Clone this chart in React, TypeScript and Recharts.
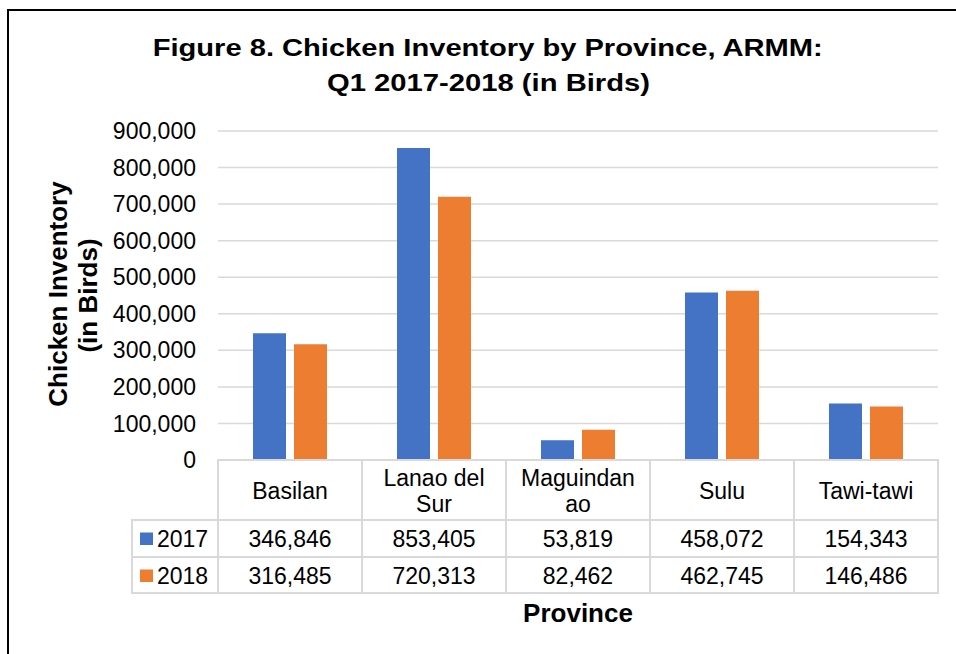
import React from "react";
import { BarChart, Bar, XAxis, YAxis, CartesianGrid, Customized } from "recharts";

const provinces = ["Basilan", "Lanao del Sur", "Maguindanao", "Sulu", "Tawi-tawi"];
// how the category names wrap inside the data table header
const provinceLines = [["Basilan"], ["Lanao del", "Sur"], ["Maguindan", "ao"], ["Sulu"], ["Tawi-tawi"]];
const inv2017 = [346846, 853405, 53819, 458072, 154343];
const inv2018 = [316485, 720313, 82462, 462745, 146486];
const seriesNames = ["2017", "2018"];
const yTicks = [0, 100000, 200000, 300000, 400000, 500000, 600000, 700000, 800000, 900000];

const COLORS = ["#4472C4", "#ED7D31"];
const W = 956;
const H = 654;
const X_AXIS_H = 194;
const M = { top: 131, right: 18, bottom: 0, left: 0 };
const Y_AXIS_W = 218;
const COL_W = (W - M.right - Y_AXIS_W) / provinces.length;
const FONT = "'Liberation Sans', Arial, sans-serif";
const GRID = "#d9d9d9";

const data = provinces.map((p, i) => ({ name: p, y2017: inv2017[i], y2018: inv2018[i] }));
const seriesRows = [inv2017, inv2018];

const fmt = (v: number) => v.toLocaleString("en-US");

const TableTick = (props: any) => {
    const { x, y, index } = props;
    const left = x - COL_W / 2;
    const headH = 60;
    const rowH = [37, 36];
    const lines = provinceLines[index];
    return (
        <g fontFamily={FONT} fontSize={23} fill="#000">
            <rect x={left} y={y} width={COL_W} height={headH} fill="none" stroke={GRID} strokeWidth={2} />
            {lines.map((ln, k) => (
                <text
                    key={k}
                    x={x}
                    y={lines.length === 1 ? y + 39 : y + 26 + k * 26}
                    textAnchor="middle"
                >
                    {ln}
                </text>
            ))}
            {seriesRows.map((row, r) => {
                const ry = y + headH + (r === 0 ? 0 : rowH[0]);
                return (
                    <g key={r}>
                        <rect x={left} y={ry} width={COL_W} height={rowH[r]} fill="none" stroke={GRID} strokeWidth={2} />
                        <text x={x} y={ry + 26.5} textAnchor="middle">
                            {fmt(row[index])}
                        </text>
                        {index === 0 && (
                            <g>
                                <rect x={left - 86} y={ry} width={86} height={rowH[r]} fill="none" stroke={GRID} strokeWidth={2} />
                                <rect x={left - 78} y={ry + 12.5} width={13} height={12.5} fill={COLORS[r]} />
                                <text x={left - 61} y={ry + 26.5}>
                                    {seriesNames[r]}
                                </text>
                            </g>
                        )}
                    </g>
                );
            })}
        </g>
    );
};

const Titles = () => (
    <g fontFamily={FONT} fontWeight="bold" fill="#000">
        <text x={487.7} y={56} fontSize={24} textAnchor="middle" textLength={670} lengthAdjust="spacingAndGlyphs">
            Figure 8. Chicken Inventory by Province, ARMM:
        </text>
        <text x={488.5} y={91} fontSize={24} textAnchor="middle" textLength={323} lengthAdjust="spacingAndGlyphs">
            Q1 2017-2018 (in Birds)
        </text>
        <text x={67} y={294} fontSize={26} textAnchor="middle" transform="rotate(-90 67 294)">
            Chicken Inventory
        </text>
        <text x={97} y={295.5} fontSize={26} textAnchor="middle" transform="rotate(-90 97 295.5)">
            (in Birds)
        </text>
        <text x={578} y={622} fontSize={26} textAnchor="middle">
            Province
        </text>
    </g>
);

export default function App() {
    return (
        <div style={{ position: "absolute", left: 0, top: 0, width: W, height: H, overflow: "hidden", background: "#fff" }}>
            <div
                style={{
                    position: "absolute",
                    left: 7,
                    top: 9,
                    width: 1000,
                    height: 1000,
                    borderLeft: "2px solid #000",
                    borderTop: "2px solid #000",
                }}
            />
            <div style={{ position: "absolute", left: 0, top: 0 }}>
                <BarChart width={W} height={H} data={data} margin={M} barSize={33} barGap={8}>
                    <CartesianGrid vertical={false} stroke={GRID} strokeWidth={1.5} />
                    <XAxis
                        dataKey="name"
                        height={X_AXIS_H}
                        interval={0}
                        axisLine={{ stroke: GRID, strokeWidth: 2 }}
                        tickLine={false}
                        tickSize={0}
                        tickMargin={0}
                        tick={<TableTick />}
                    />
                    <YAxis
                        width={Y_AXIS_W}
                        domain={[0, 900000]}
                        ticks={yTicks}
                        interval={0}
                        axisLine={false}
                        tickLine={false}
                        tickMargin={16}
                        tickFormatter={fmt}
                        tick={{ fontSize: 23, fill: "#000", fontFamily: FONT }}
                    />
                    <Bar dataKey="y2017" name={seriesNames[0]} fill={COLORS[0]} isAnimationActive={false} />
                    <Bar dataKey="y2018" name={seriesNames[1]} fill={COLORS[1]} isAnimationActive={false} />
                    <Customized component={Titles} />
                </BarChart>
            </div>
        </div>
    );
}
